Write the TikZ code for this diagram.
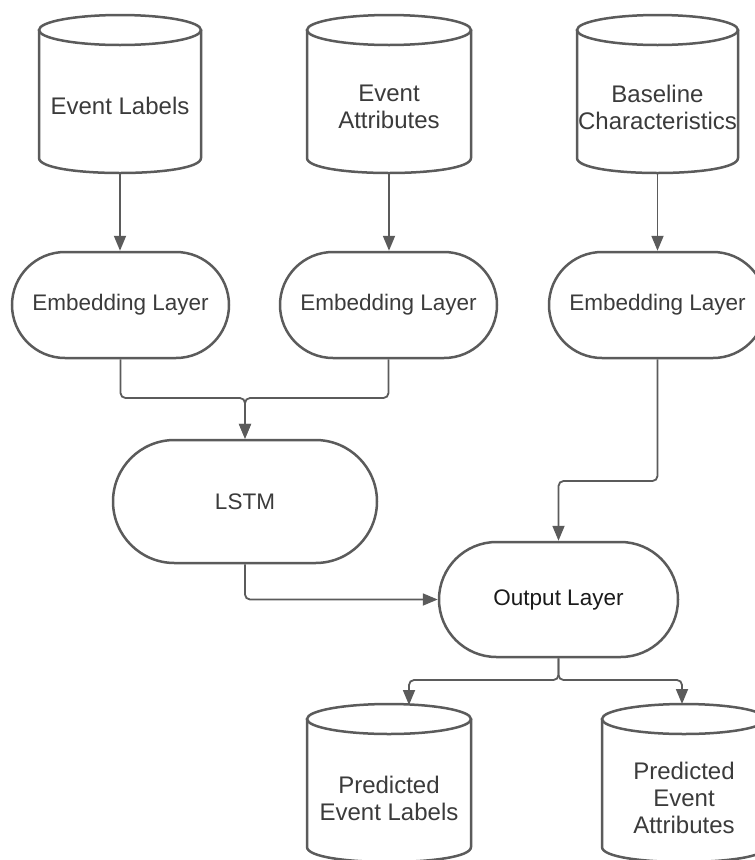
\documentclass[tikz,border=0pt]{standalone}
\usepackage{fontspec}
\setmainfont{Liberation Sans}
\usetikzlibrary{shapes.misc,arrows.meta}
\definecolor{lc}{HTML}{5B5B5B}
\definecolor{tc}{HTML}{3B3B3B}
\definecolor{tdark}{HTML}{1A1A1A}
\newcommand\drawcyl[5]{% #1 name, #2 cx, #3 half width, #4 top y, #5 bottom y
  \fill[white] ({#2-#3},{#4+15}) rectangle ({#2+#3},{#5-15});
  \draw[cylline] ({#2-#3},{#4+15}) -- ({#2-#3},{#5-15})
     .. controls ({#2-#3},{#5+5}) and ({#2+#3},{#5+5}) .. ({#2+#3},{#5-15})
     -- ({#2+#3},{#4+15});
  \draw[cylline] (#2,{#4+15}) ellipse[x radius=#3, y radius=15];
  \coordinate (#1-top) at (#2,#4);
  \coordinate (#1-bot) at (#2,#5);
}
\begin{document}
\begin{tikzpicture}[x=1pt,y=-1pt,
  cylline/.style={draw=lc, line width=2.5pt, fill=white},
  cyltxt/.style={align=center, text=tc, inner sep=0pt, font=\fontsize{24}{27}\selectfont},
  stadium/.style={rounded rectangle, draw=lc, line width=2.5pt, fill=white, text=tc,
     inner sep=0pt, font=\fontsize{22.5}{27}\selectfont},
  conn/.style={draw=lc, line width=1.8pt, -{Triangle[width=12pt,length=15pt]}, rounded corners=5pt}]
\useasboundingbox (0,0) rectangle (755,860);

% input cylinders
\drawcyl{elc}{120}{81}{15}{173}
\drawcyl{eac}{389}{82}{15}{173}
\drawcyl{bcc}{657.5}{80.5}{15}{173}
\node[cyltxt] (el) at (120,106) {Event Labels};
\node[cyltxt] (ea) at (389,107) {Event\\Attributes};
\node[cyltxt] (bc) at (657.5,107) {Baseline\\Characteristics};

% embedding layers
\node[stadium, minimum width=217pt, minimum height=106pt] (e1) at (120.5,305) {Embedding Layer};
\node[stadium, minimum width=217pt, minimum height=106pt] (e2) at (388.5,305) {Embedding Layer};
\node[stadium, minimum width=217pt, minimum height=106pt] (e3) at (657.5,305) {Embedding Layer};

% LSTM and output
\node[stadium, minimum width=264pt, minimum height=123pt] (lstm) at (245,501.5) {LSTM};
\node[stadium, minimum width=239pt, minimum height=115pt, text=tdark] (out) at (558.5,599.5) {Output Layer};

% output cylinders
\drawcyl{pelc}{389}{82}{704}{862}
\drawcyl{peac}{684}{82}{704}{862}
\node[cyltxt] (pel) at (389,798) {Predicted\\Event Labels};
\node[cyltxt] (pea) at (684,798) {Predicted\\Event\\Attributes};

% junction coordinates
\coordinate (j1) at (245,398);
\coordinate (j2) at (558.5,481);
\coordinate (j4) at (558.5,680);
\coordinate (pela) at (409,705);
\coordinate (peaa) at (682,704);

% connectors
\draw[conn] (elc-bot) -- (elc-bot |- e1.north);
\draw[conn] (eac-bot) -- (eac-bot |- e2.north);
\draw[conn] (bcc-bot) -- (bcc-bot |- e3.north);
\draw[conn] (e1.south) |- (j1) -- (lstm.north);
\draw[conn] (e2.south) |- (j1) -- (lstm.north);
\draw[conn] (e3.south) |- (j2) -- (out.north);
\draw[conn] (lstm.south) |- (out.west);
\draw[conn] (out.south) -- (j4) -| (pela);
\draw[conn] (out.south) -- (j4) -| (peaa);
\end{tikzpicture}
\end{document}
